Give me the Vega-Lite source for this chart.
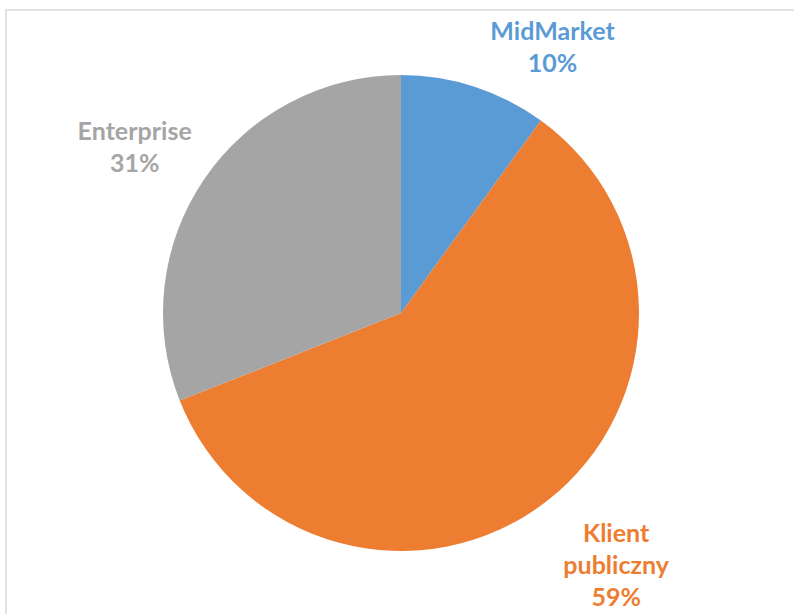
{
  "$schema": "https://vega.github.io/schema/vega-lite/v6.json",
  "autosize": {"type": "none"},
  "width": 790,
  "height": 606,
  "padding": {"left": 6, "top": 10, "right": 0, "bottom": 0},
  "background": "white",
  "view": {"stroke": "#d9d9d9", "strokeWidth": 1.5},
  "data": {
    "values": [
      {"segment": "MidMarket", "share": 10, "label": "MidMarket\n10%"},
      {"segment": "Klient publiczny", "share": 59, "label": "Klient\npubliczny\n59%"},
      {"segment": "Enterprise", "share": 31, "label": "Enterprise\n31%"}
    ]
  },
  "encoding": {
    "theta": {"field": "share", "type": "quantitative", "stack": true},
    "order": {"field": "segment", "sort": "descending"},
    "color": {
      "field": "segment",
      "type": "nominal",
      "scale": {
        "domain": ["MidMarket", "Klient publiczny", "Enterprise"],
        "range": ["#5b9bd5", "#ed7d31", "#a5a5a5"]
      },
      "legend": null
    }
  },
  "layer": [
    {
      "mark": {"type": "arc", "outerRadius": 238}
    },
    {
      "mark": {
        "type": "text",
        "radius": 322,
        "font": "Lato",
        "fontSize": 25,
        "fontWeight": "bold",
        "lineHeight": 32,
        "lineBreak": "\n",
        "baseline": "middle"
      },
      "encoding": {
        "text": {
          "condition": {"test": "datum.segment !== 'Enterprise'", "value": ""},
          "field": "label",
          "type": "nominal"
        }
      }
    },
    {
      "mark": {
        "type": "text",
        "radius": 320,
        "dx": 19,
        "dy": -32,
        "font": "Lato",
        "fontSize": 25,
        "fontWeight": "bold",
        "lineHeight": 32,
        "lineBreak": "\n",
        "baseline": "middle"
      },
      "encoding": {
        "text": {
          "condition": {"test": "datum.segment !== 'Klient publiczny'", "value": ""},
          "field": "label",
          "type": "nominal"
        }
      }
    },
    {
      "mark": {
        "type": "text",
        "radius": 280,
        "dx": 65,
        "dy": -15,
        "font": "Lato",
        "fontSize": 25,
        "fontWeight": "bold",
        "lineHeight": 32,
        "lineBreak": "\n",
        "baseline": "middle"
      },
      "encoding": {
        "text": {
          "condition": {"test": "datum.segment !== 'MidMarket'", "value": ""},
          "field": "label",
          "type": "nominal"
        }
      }
    }
  ]
}
